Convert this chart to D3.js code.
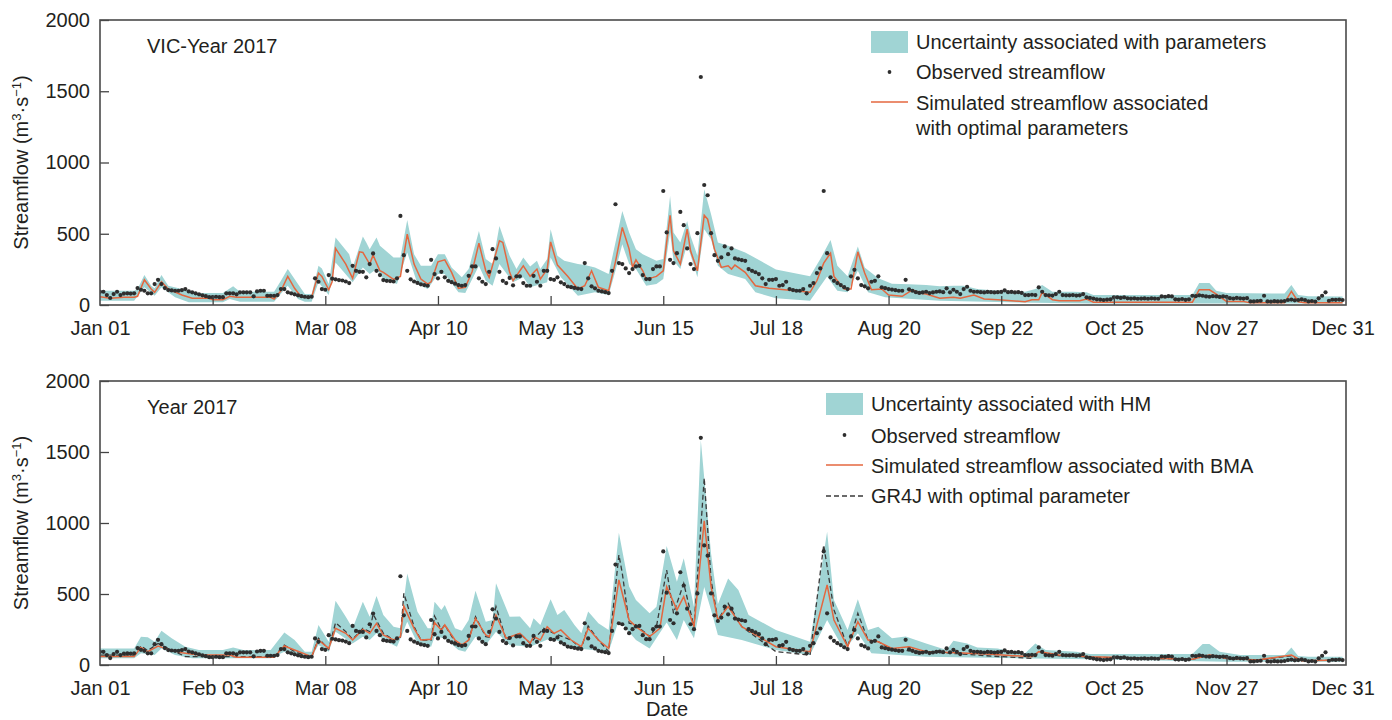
<!DOCTYPE html>
<html>
<head>
<meta charset="utf-8">
<script src="https://cdn.jsdelivr.net/npm/d3@7"></script>
<style>
  body { margin: 0; background: #fff; }
  text { font-family: "Liberation Sans", Arial, sans-serif; fill: #231f20; }
</style>
</head>
<body>
<svg id="chart" width="1392" height="720"></svg>
<script>
// x ticks (day of year 2017, Jan 01 = 0)
const tickDays = [0, 33, 66, 99, 132, 165, 198, 231, 264, 297, 330, 364];
const tickLabels = ["Jan 01", "Feb 03", "Mar 08", "Apr 10", "May 13", "Jun 15",
  "Jul 18", "Aug 20", "Sep 22", "Oct 25", "Nov 27", "Dec 31"];
const yTicks = [0, 500, 1000, 1500, 2000];

// observed daily streamflow (m3/s), one value per day
const observed = [
  93, 93, 70, 49, 77, 93, 70, 80, 82, 80,
  82, 119, 107, 100, 82, 82, 147, 177, 147, 119,
  105, 102, 100, 100, 105, 112, 95, 89, 82, 75,
  68, 62, 55, 55, 58, 55, 55, 82, 82, 82,
  75, 89, 89, 89, 89, 61, 95, 100, 100, 65,
  65, 65, 70, 112, 112, 89, 82, 75, 68, 62,
  58, 55, 58, 187, 163, 112, 107, 210, 185, 180,
  175, 172, 165, 154, 275, 240, 233, 233, 194, 287,
  362, 240, 210, 175, 170, 168, 165, 187, 625, 350,
  240, 180, 165, 155, 145, 140, 135, 317, 217, 187,
  233, 194, 170, 160, 150, 140, 135, 140, 205, 271,
  271, 187, 163, 147, 233, 392, 327, 233, 170, 154,
  190, 138, 201, 201, 154, 135, 135, 205, 163, 135,
  240, 240, 182, 177, 194, 159, 147, 130, 125, 120,
  115, 112, 294, 187, 131, 117, 100, 95, 90, 84,
  240, 707, 294, 287, 257, 224, 252, 271, 275, 210,
  182, 182, 252, 271, 271, 800, 509, 317, 294, 364,
  653, 560, 397, 287, 252, 504, 1600, 842, 770, 504,
  350, 310, 334, 411, 357, 397, 327, 320, 315, 310,
  252, 240, 230, 217, 187, 147, 177, 177, 182, 135,
  140, 163, 112, 105, 100, 100, 112, 82, 135, 154,
  224, 257, 800, 364, 194, 170, 154, 140, 125, 112,
  201, 247, 187, 140, 131, 117, 163, 170, 201, 124,
  118, 112, 108, 104, 100, 100, 177, 110, 100, 90,
  85, 88, 93, 84, 88, 93, 95, 90, 117, 89,
  107, 93, 77, 112, 128, 100, 93, 93, 90, 88,
  92, 90, 88, 90, 92, 103, 90, 92, 88, 90,
  85, 70, 70, 72, 70, 124, 93, 70, 68, 66,
  77, 93, 70, 68, 68, 70, 66, 68, 77, 54,
  50, 45, 40, 38, 35, 38, 40, 54, 54, 50,
  54, 47, 45, 47, 44, 45, 46, 44, 47, 45,
  44, 60, 58, 62, 60, 40, 38, 42, 36, 40,
  65, 62, 68, 65, 60, 58, 62, 60, 57, 60,
  58, 48, 45, 50, 47, 45, 48, 25, 25, 28,
  30, 65, 25, 24, 27, 25, 26, 28, 35, 38,
  33, 35, 40, 35, 25, 28, 24, 47, 65, 89,
  30, 37, 36, 38, 35
];

// VIC panel: [day, value] vertices
const vicSim = [[0,58],[3,47],[7,54],[10,54],[11,61],[13,177],[15,112],[16,89],[18,163],[20,112],[24,70],[27,47],[32,47],[33,37],[36,37],[38,61],[40,54],[50,54],[51,42],[53,100],[55,201],[57,117],[59,54],[62,54],[64,224],[65,201],[67,107],[68,163],[69,397],[72,287],[74,187],[76,373],[77,369],[79,287],[80,350],[82,240],[83,229],[86,180],[88,201],[90,497],[92,287],[94,182],[96,147],[97,163],[99,303],[101,317],[103,229],[105,117],[107,124],[109,233],[111,434],[113,240],[114,194],[117,450],[118,439],[120,229],[121,170],[124,275],[126,201],[128,252],[129,182],[131,252],[132,443],[134,280],[137,201],[140,112],[142,135],[144,240],[146,124],[149,100],[151,303],[153,544],[155,392],[156,264],[157,317],[159,240],[160,182],[162,194],[163,201],[165,240],[166,439],[167,630],[168,380],[170,287],[172,532],[173,380],[175,240],[177,630],[178,602],[180,392],[182,264],[184,275],[185,252],[186,280],[189,229],[192,135],[196,117],[208,89],[210,170],[212,294],[214,364],[215,201],[218,112],[220,112],[222,373],[224,224],[226,107],[229,112],[231,70],[235,61],[238,107],[240,84],[242,77],[246,47],[250,54],[252,47],[256,70],[259,42],[263,37],[267,30],[271,23],[273,37],[275,37],[276,89],[279,37],[281,30],[287,30],[289,42],[291,20],[320,20],[322,107],[325,107],[327,77],[330,25],[335,25],[337,15],[347,15],[349,96],[351,23],[353,15],[364,15]];
const vicUpper = [[0,100],[10,100],[11,112],[13,210],[15,135],[16,117],[18,210],[20,135],[24,112],[27,84],[36,84],[39,131],[41,93],[51,93],[53,170],[55,252],[58,147],[60,77],[62,77],[64,275],[65,257],[67,147],[69,474],[73,357],[74,264],[77,481],[78,439],[79,392],[81,474],[82,415],[86,334],[88,334],[90,597],[92,357],[94,275],[97,275],[99,357],[101,357],[103,264],[106,194],[108,252],[111,520],[113,322],[115,287],[117,555],[120,345],[122,252],[124,334],[126,271],[128,310],[129,252],[131,322],[132,532],[134,345],[136,310],[140,287],[142,280],[145,264],[149,217],[151,439],[153,660],[155,509],[157,392],[159,357],[163,310],[165,322],[167,765],[168,509],[170,439],[172,590],[173,485],[175,345],[177,812],[179,637],[181,439],[184,415],[189,369],[198,250],[208,201],[211,322],[214,457],[216,275],[219,201],[222,411],[224,264],[228,187],[232,150],[237,145],[242,140],[246,131],[250,135],[253,135],[257,112],[263,100],[271,93],[274,112],[276,140],[279,93],[285,93],[289,89],[291,70],[320,70],[322,154],[325,154],[327,100],[330,85],[347,80],[349,140],[351,70],[354,62],[364,60]];
const vicLower = [[0,30],[10,30],[13,124],[16,65],[18,124],[22,54],[26,19],[36,19],[38,42],[41,23],[51,23],[55,135],[58,42],[60,23],[62,23],[64,159],[67,70],[69,299],[74,159],[77,264],[79,217],[81,252],[83,182],[87,147],[90,369],[93,147],[96,112],[99,217],[101,217],[105,89],[107,84],[111,275],[113,170],[115,135],[117,287],[121,159],[124,194],[126,124],[131,159],[132,334],[135,194],[140,65],[145,89],[149,70],[151,240],[153,427],[155,287],[157,252],[160,135],[163,147],[165,182],[167,509],[168,310],[170,252],[172,427],[175,194],[177,532],[179,462],[181,275],[184,217],[189,182],[192,89],[198,47],[208,30],[213,200],[216,100],[219,89],[222,240],[225,89],[230,54],[246,30],[266,19],[290,10],[364,10]];

// HM panel: [day, value] vertices
const hmUpper = [[0,117],[10,117],[12,199],[14,195],[16,164],[18,242],[21,188],[25,129],[29,106],[36,106],[39,124],[42,106],[50,106],[54,228],[57,176],[60,94],[62,94],[64,281],[67,164],[69,453],[72,340],[74,258],[77,446],[79,340],[81,486],[83,352],[86,270],[88,258],[90,645],[93,375],[96,258],[97,258],[98,446],[100,387],[101,422],[104,258],[106,242],[108,317],[110,523],[113,305],[115,317],[116,575],[120,340],[123,341],[126,258],[127,329],[129,282],[132,463],[134,352],[136,388],[139,282],[141,223],[143,376],[146,294],[149,247],[152,932],[155,552],[157,458],[161,364],[163,411],[166,838],[169,587],[171,751],[174,411],[176,1584],[179,786],[181,428],[184,610],[187,528],[190,352],[198,247],[208,164],[213,939],[215,458],[219,247],[222,463],[225,247],[228,270],[232,188],[236,200],[242,152],[248,105],[250,171],[254,152],[257,124],[263,117],[267,94],[271,82],[274,152],[277,105],[286,94],[290,77],[320,77],[323,148],[325,148],[328,94],[334,70],[347,70],[349,124],[351,63],[354,58],[364,58]];
const hmLower = [[0,47],[10,47],[12,82],[16,70],[18,117],[22,70],[27,47],[50,47],[54,94],[59,54],[62,54],[64,141],[67,94],[69,235],[74,152],[77,199],[79,176],[81,223],[83,176],[87,129],[90,305],[93,152],[97,129],[98,199],[101,188],[105,106],[107,94],[110,199],[113,141],[116,235],[120,141],[126,129],[132,188],[140,117],[149,94],[152,317],[157,176],[161,117],[166,300],[169,176],[171,317],[174,188],[177,550],[179,388],[181,211],[188,176],[198,106],[208,70],[213,317],[218,106],[222,223],[226,82],[242,58],[290,40],[330,23],[364,23]];
const bmaSim = [[0,59],[10,59],[12,124],[14,94],[17,134],[19,117],[24,87],[29,70],[38,70],[40,54],[51,54],[54,134],[57,106],[62,59],[64,176],[67,117],[69,258],[72,223],[74,176],[77,251],[79,223],[81,293],[83,211],[86,176],[88,199],[89,415],[92,258],[94,176],[97,181],[98,298],[100,246],[101,282],[104,176],[106,141],[108,176],[110,328],[113,211],[114,199],[116,352],[119,188],[123,223],[126,153],[127,200],[129,176],[131,270],[133,223],[135,247],[138,176],[141,129],[143,258],[146,176],[149,117],[152,599],[155,317],[157,270],[161,200],[164,258],[166,552],[169,388],[171,481],[174,270],[177,1015],[179,552],[181,317],[184,411],[188,270],[198,129],[208,94],[213,564],[215,317],[219,129],[222,305],[225,176],[228,164],[232,117],[237,129],[242,94],[251,87],[261,75],[273,58],[275,94],[281,70],[290,58],[320,40],[325,70],[330,47],[339,35],[349,70],[352,30],[364,35]];
const gr4jSim = [[0,70],[10,70],[12,134],[14,101],[17,152],[20,117],[25,59],[51,59],[54,141],[57,94],[62,54],[64,188],[67,110],[69,298],[72,235],[74,181],[77,258],[79,235],[80,359],[83,223],[86,176],[88,188],[89,505],[92,270],[94,176],[97,176],[98,345],[100,251],[101,282],[104,164],[106,134],[108,176],[110,340],[113,199],[114,195],[116,411],[119,176],[123,223],[126,153],[130,258],[133,223],[138,176],[141,117],[143,275],[146,176],[149,94],[152,775],[153,646],[155,294],[157,282],[161,200],[163,270],[166,669],[168,364],[171,575],[174,270],[177,1317],[179,599],[181,317],[184,434],[188,270],[198,94],[208,70],[212,845],[215,388],[219,129],[222,364],[225,176],[228,164],[232,106],[242,94],[251,80],[261,63],[273,47],[275,90],[281,65],[290,55],[320,40],[325,70],[330,45],[339,35],[349,65],[352,30],[364,35]];

const teal = "#a0d4d4";
const orange = "#e4673f";
const dark = "#2e2e2e";
const fs = "20px";

const svg = d3.select("#chart");

function drawPanel(p) {
  const x = d3.scaleLinear().domain([0, 365]).range([100, 1346]);
  const y = d3.scaleLinear().domain([0, 2000]).range([p.bottom, p.top]);
  const g = svg.append("g");

  g.append("clipPath").attr("id", p.id + "-clip")
    .append("rect").attr("x", 100).attr("y", p.top)
    .attr("width", 1246).attr("height", p.bottom - p.top);
  const plot = g.append("g").attr("clip-path", "url(#" + p.id + "-clip)");

  // uncertainty band = upper edge forward, lower edge back
  const band = p.upper.map(d => [x(d[0]), y(d[1])])
    .concat(p.lower.slice().reverse().map(d => [x(d[0]), y(d[1])]));
  plot.append("path").attr("d", d3.line()(band) + "Z").attr("fill", teal);

  const line = d3.line().x(d => x(d[0])).y(d => y(d[1]));
  if (p.dashed) {
    plot.append("path").attr("d", line(p.dashed)).attr("fill", "none")
      .attr("stroke", "#3a3a3a").attr("stroke-width", 1.3).attr("stroke-dasharray", "5,3");
  }
  plot.append("path").attr("d", line(p.sim)).attr("fill", "none")
    .attr("stroke", orange).attr("stroke-width", 1.5);

  plot.selectAll("circle").data(observed).enter().append("circle")
    .attr("cx", (d, i) => x(i)).attr("cy", d => y(d)).attr("r", 2.1).attr("fill", dark);

  // axes
  const xa = g.append("g").attr("transform", "translate(0," + p.bottom + ")")
    .call(d3.axisBottom(x).tickValues(tickDays).tickSize(-9).tickPadding(16)
      .tickFormat((d, i) => tickLabels[i]));
  const ya = g.append("g").attr("transform", "translate(100,0)")
    .call(d3.axisLeft(y).tickValues(yTicks).tickSize(-9).tickPadding(10)
      .tickFormat(d3.format("d")));
  [xa, ya].forEach(a => {
    a.select(".domain").remove();
    a.selectAll("line").attr("stroke", "#444").attr("stroke-width", 1.3);
    a.selectAll("text").style("font-size", fs)
      .style("font-family", "'Liberation Sans', Arial, sans-serif").attr("fill", "#231f20");
  });
  xa.selectAll(".tick").filter(d => d === 0 || d === 364).select("line").remove();

  g.append("rect").attr("x", 100).attr("y", p.top).attr("width", 1246)
    .attr("height", p.bottom - p.top).attr("fill", "none")
    .attr("stroke", "#4a4a4a").attr("stroke-width", 1.6);

  // y title
  const t = g.append("text").attr("text-anchor", "middle").style("font-size", fs)
    .attr("transform", "translate(28," + ((p.top + p.bottom) / 2) + ") rotate(-90)");
  t.append("tspan").text("Streamflow (m");
  t.append("tspan").attr("dy", -7).style("font-size", "13px").text("3");
  t.append("tspan").attr("dy", 7).text("\u00b7s");
  t.append("tspan").attr("dy", -7).style("font-size", "13px").text("\u22121");
  t.append("tspan").attr("dy", 7).text(")");

  g.append("text").attr("x", 147).attr("y", p.top + 33).style("font-size", fs).text(p.title);

  // legend
  const L = p.legend;
  const lg = g.append("g");
  lg.append("rect").attr("x", L.x).attr("y", L.rows[0] - 11).attr("width", 37).attr("height", 22).attr("fill", teal);
  lg.append("circle").attr("cx", L.x + 18.5).attr("cy", L.rows[1]).attr("r", 1.9).attr("fill", dark);
  lg.append("line").attr("x1", L.x).attr("x2", L.x + 37).attr("y1", L.rows[2]).attr("y2", L.rows[2])
    .attr("stroke", orange).attr("stroke-width", 1.5);
  if (p.dashed) {
    lg.append("line").attr("x1", L.x).attr("x2", L.x + 37).attr("y1", L.rows[3]).attr("y2", L.rows[3])
      .attr("stroke", "#3a3a3a").attr("stroke-width", 1.3).attr("stroke-dasharray", "5,3");
  }
  L.texts.forEach((s, i) => {
    lg.append("text").attr("x", L.x + 45).attr("y", L.textRows[i] + 7)
      .style("font-size", fs).text(s);
  });
}

drawPanel({
  id: "vic", top: 20, bottom: 305, title: "VIC-Year 2017",
  upper: vicUpper, lower: vicLower, sim: vicSim, dashed: null,
  legend: {
    x: 871, rows: [42, 72, 102],
    textRows: [42, 72, 103, 128],
    texts: ["Uncertainty associated with parameters", "Observed streamflow",
      "Simulated streamflow associated", "with optimal parameters"]
  }
});

drawPanel({
  id: "hm", top: 381, bottom: 665, title: "Year 2017",
  upper: hmUpper, lower: hmLower, sim: bmaSim, dashed: gr4jSim,
  legend: {
    x: 826, rows: [404, 435, 465, 496],
    textRows: [404, 436, 466, 496],
    texts: ["Uncertainty associated with HM", "Observed streamflow",
      "Simulated streamflow associated with BMA", "GR4J with optimal parameter"]
  }
});

svg.append("text").attr("x", 667).attr("y", 716).attr("text-anchor", "middle")
  .style("font-size", fs).text("Date");
</script>
</body>
</html>
